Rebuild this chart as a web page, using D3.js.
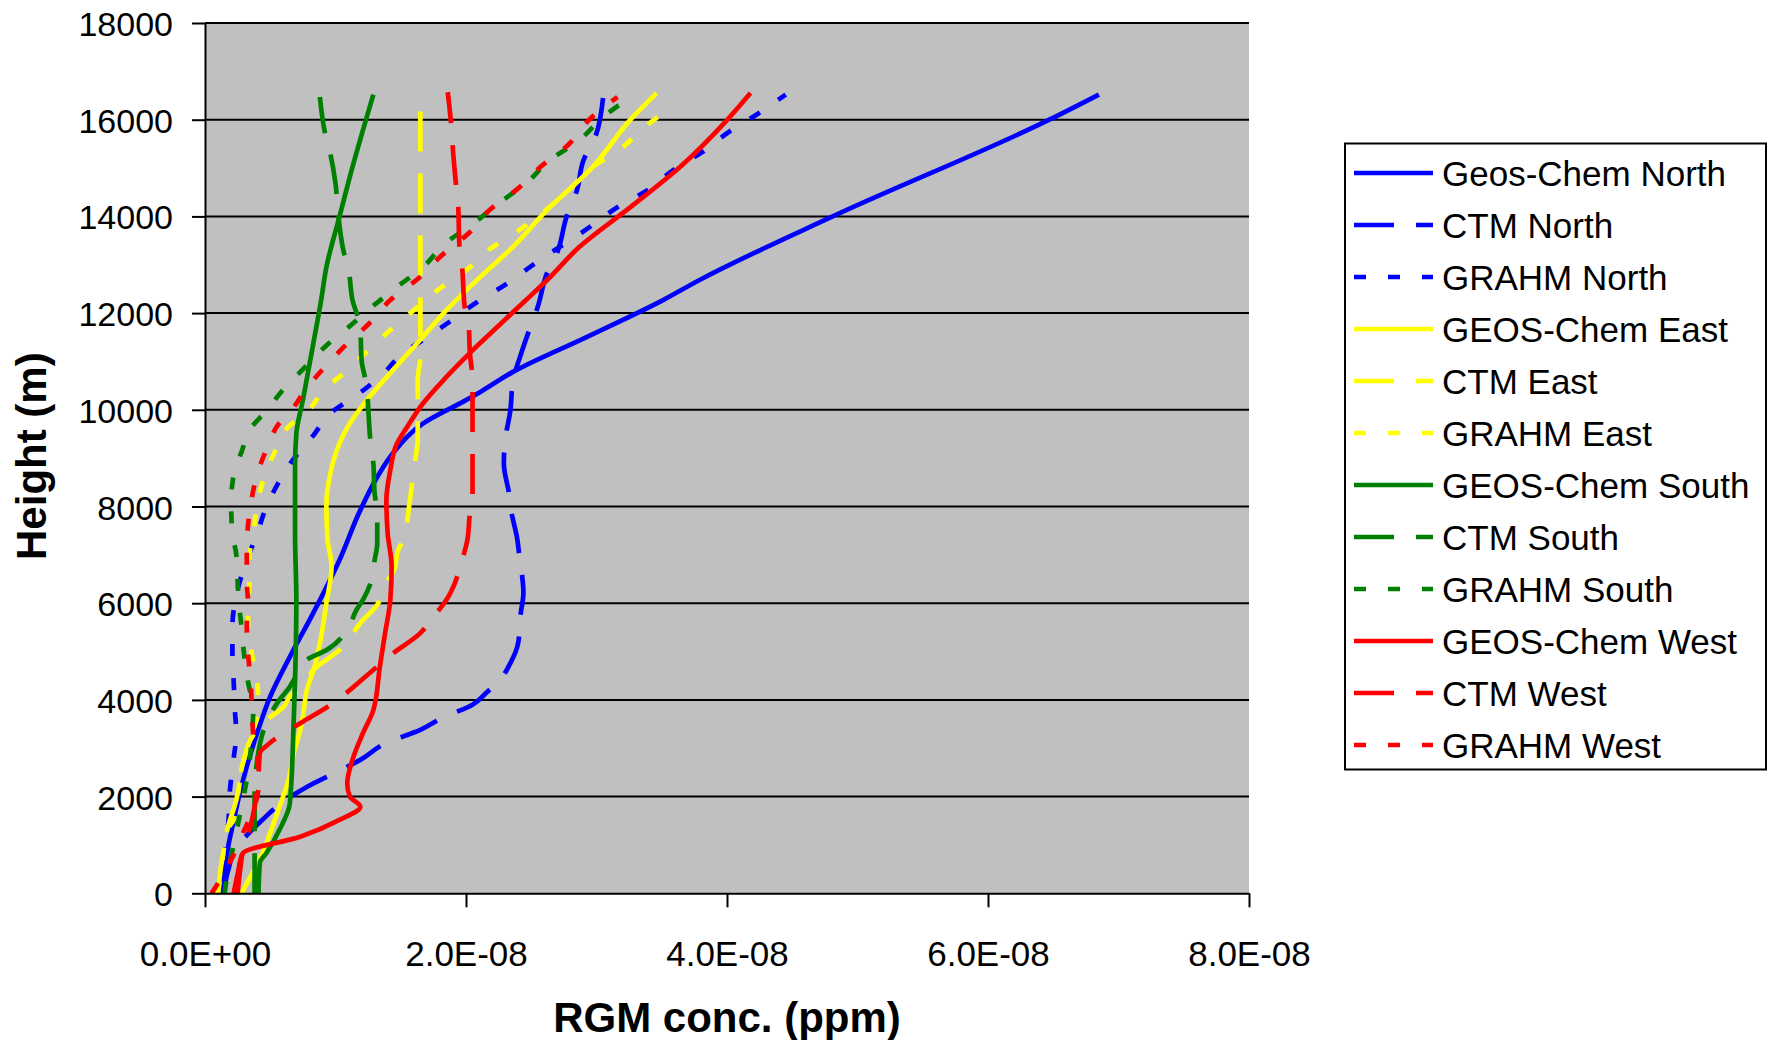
<!DOCTYPE html>
<html><head><meta charset="utf-8">
<script src="https://cdn.jsdelivr.net/npm/d3@7/dist/d3.min.js"></script>
<style>
body{margin:0;background:#fff}
svg{display:block}
text{font-family:"Liberation Sans",Arial,sans-serif;fill:#000}
</style>
</head><body>
<svg id="chart" width="1772" height="1040"></svg>
<script>
// ---- data (concentrations in units of 1e-8 ppm, heights in m) ----
const UNIT = 1e-8;
const xTickValues = [0, 2e-8, 4e-8, 6e-8, 8e-8];
const yTickValues = [0, 2000, 4000, 6000, 8000, 10000, 12000, 14000, 16000, 18000];
const xTitle = "RGM conc. (ppm)";
const yTitle = "Height (m)";

const seriesNames = ["Geos-Chem North","CTM North","GRAHM North",
  "GEOS-Chem East","CTM East","GRAHM East",
  "GEOS-Chem South","CTM South","GRAHM South",
  "GEOS-Chem West","CTM West","GRAHM West"];
const seriesColors = ["#0000FF","#0000FF","#0000FF","#FFFF00","#FFFF00","#FFFF00",
  "#008000","#008000","#008000","#FF0000","#FF0000","#FF0000"];
const seriesDash = ["solid","dash","dot","solid","dash","dot","solid","dash","dot","solid","dash","dot"];

const gcNorthH = [0,500,1000,1500,2000,2620,3320,4070,4890,5800,6890,7925,8610,9100,9715,10200,10370,10785,11500,12270,12685,14000,16000,16520];
const gcNorthC = [0.13,0.15,0.18,0.22,0.26,0.32,0.40,0.50,0.65,0.83,1.03,1.19,1.32,1.44,1.67,2.00,2.11,2.36,2.92,3.51,3.79,4.81,6.47,6.85];

const ctmNorthH = [0,500,1000,1200,1520,1790,2200,2510,2760,3110,3380,3630,3900,4160,4350,4760,5180,5800,6210,6950,7370,7860,8270,8890,9370,9990,10610,11060,11690,12130,12820,13260,13990,14540,15160,15640,16450];
const ctmNorthC = [0.14,0.18,0.25,0.32,0.44,0.55,0.78,1.01,1.19,1.39,1.65,1.82,2.05,2.16,2.24,2.34,2.40,2.42,2.44,2.41,2.39,2.35,2.33,2.29,2.30,2.34,2.36,2.41,2.49,2.55,2.62,2.70,2.77,2.85,2.90,2.99,3.05];

const grNorthH = [0,400,1000,1500,2100,2800,3300,3750,4370,4960,5510,6030,6890,7440,7920,8480,8950,9470,9950,10300,10680,11170,11500,11850,12220,12620,13030,13820,14190,14540,14960,15330,15720,16130,16520];
const grNorthC = [0.13,0.14,0.16,0.18,0.19,0.22,0.24,0.23,0.22,0.21,0.21,0.23,0.32,0.40,0.46,0.56,0.67,0.83,0.97,1.16,1.34,1.52,1.70,1.89,2.08,2.32,2.53,2.97,3.16,3.39,3.59,3.81,4.00,4.24,4.45];

const gcEastH = [0,400,830,1250,1790,2340,2900,3380,3650,4200,4690,5310,6000,6760,7300,7990,8680,9160,9720,10200,10820,11450,12060,12750,13370,14130,15020,16000,16550];
const gcEastC = [0.28,0.36,0.44,0.50,0.57,0.64,0.68,0.73,0.75,0.78,0.84,0.89,0.93,0.97,0.94,0.93,0.96,1.01,1.11,1.24,1.44,1.65,1.85,2.11,2.36,2.62,2.97,3.26,3.46];

const ctmEastH = [0,500,830,1310,1930,2690,3310,3600,3850,4130,4200,4620,5030,5650,5930,6420,6690,7100,7370,7920,8330,8950,9370,10610,11100,12270,16520];
const ctmEastC = [0.10,0.12,0.14,0.17,0.24,0.29,0.38,0.48,0.60,0.67,0.73,0.83,1.03,1.21,1.31,1.39,1.45,1.48,1.53,1.56,1.58,1.61,1.63,1.63,1.65,1.65,1.65];

const grEastH = [0,400,830,1310,1520,2000,2690,3300,3820,4370,4930,5550,6030,6370,6960,7440,8030,8580,9160,9650,9950,10400,10820,11230,11650,12060,12470,12930,13300,13720,14580,15020,15410,15850,16300];
const grEastC = [0.10,0.12,0.14,0.17,0.22,0.25,0.29,0.36,0.41,0.40,0.36,0.33,0.33,0.34,0.34,0.37,0.40,0.45,0.54,0.64,0.78,0.91,1.09,1.25,1.42,1.60,1.78,2.02,2.17,2.41,2.80,2.97,3.19,3.37,3.60];

const gcSouthH = [0,630,830,1310,1860,3590,6070,7440,8820,9510,10200,11370,12270,12950,13990,15020,16060,16520];
const gcSouthC = [0.41,0.42,0.47,0.57,0.65,0.68,0.70,0.69,0.69,0.70,0.75,0.83,0.89,0.93,1.03,1.13,1.24,1.29];

const ctmSouthH = [0,1100,2000,2760,3380,4000,4270,4410,4830,5030,5450,5860,6070,6420,6890,7240,7860,8270,8890,9300,10610,11020,11710,12270,12890,13300,14060,14680,15300,15720,16470];
const ctmSouthC = [0.38,0.38,0.38,0.40,0.45,0.57,0.65,0.68,0.78,0.93,1.09,1.16,1.21,1.27,1.30,1.32,1.32,1.30,1.29,1.27,1.23,1.20,1.19,1.13,1.10,1.06,1.02,1.00,0.96,0.92,0.88];

const grSouthH = [0,500,1000,1800,2500,3300,3800,4370,4930,5510,6000,6420,7000,7440,8070,8650,9130,9650,9950,10450,10890,11330,11710,12130,12540,12950,13440,13860,14270,14710,15160,15580,16030,16470];
const grSouthC = [0.15,0.18,0.22,0.28,0.33,0.36,0.37,0.33,0.30,0.28,0.26,0.25,0.24,0.21,0.20,0.22,0.28,0.36,0.46,0.61,0.77,0.93,1.10,1.28,1.47,1.67,1.84,2.06,2.25,2.47,2.64,2.87,3.04,3.26];

const gcWestH = [0,400,830,1170,1520,1790,2000,2270,2760,3310,3790,4690,5380,6070,6760,7440,8130,8750,9300,9650,10130,10680,11230,11790,12270,12680,13370,14190,15020,15990,16550];
const gcWestC = [0.22,0.25,0.29,0.73,1.03,1.19,1.11,1.09,1.13,1.21,1.29,1.34,1.38,1.42,1.43,1.40,1.39,1.42,1.47,1.55,1.67,1.85,2.05,2.27,2.46,2.62,2.87,3.26,3.64,4.00,4.18];

const ctmWestH = [0,500,1000,1310,1790,2200,2480,2900,3070,3550,3790,4690,4960,5380,5650,6070,6210,6890,7300,7860,8200,8950,9370,10610,11170,11790,12130,12950,13370,14200,14750,15370,15790,16570];
const ctmWestC = [0.25,0.27,0.30,0.34,0.38,0.40,0.41,0.42,0.48,0.75,0.90,1.32,1.44,1.65,1.73,1.85,1.88,1.97,2.01,2.03,2.05,2.05,2.05,2.05,2.03,2.02,1.99,1.97,1.95,1.94,1.92,1.90,1.89,1.86];

const grWestH = [0,300,800,1300,1800,2200,2500,2900,3270,3790,4370,4960,5510,6030,6420,7040,7620,8200,8750,9300,9690,9950,10450,10920,11370,11790,12270,12750,13160,13650,14130,14580,15020,15470,15990,16470];
const grWestC = [0.05,0.12,0.22,0.30,0.38,0.41,0.41,0.40,0.37,0.36,0.35,0.33,0.32,0.33,0.32,0.32,0.33,0.36,0.41,0.49,0.56,0.65,0.78,0.93,1.09,1.26,1.42,1.65,1.80,2.02,2.18,2.40,2.57,2.78,2.94,3.16];

const seriesHeights = [gcNorthH,ctmNorthH,grNorthH,gcEastH,ctmEastH,grEastH,gcSouthH,ctmSouthH,grSouthH,gcWestH,ctmWestH,grWestH];
const seriesConcs = [gcNorthC,ctmNorthC,grNorthC,gcEastC,ctmEastC,grEastC,gcSouthC,ctmSouthC,grSouthC,gcWestC,ctmWestC,grWestC];

// ---- layout ----
const svg = d3.select("#chart");
const plot = {left:205, right:1249, top:23, bottom:893.3};
const x = d3.scaleLinear().domain([0, 8e-8]).range([plot.left, plot.right]);
const y = d3.scaleLinear().domain([0, 18000]).range([plot.bottom, plot.top]);
const dashFor = {solid:null, dash:"40,22", dot:"12,22"};
const LW = 4.7;

function fmtE(d){
  if (d === 0) return "0.0E+00";
  const e = Math.floor(Math.log10(Math.abs(d)) + 1e-9);
  const m = d / Math.pow(10, e);
  return m.toFixed(1) + "E" + (e < 0 ? "-" : "+") + String(Math.abs(e)).padStart(2, "0");
}

// plot background
svg.append("rect").attr("x", plot.left).attr("y", plot.top)
  .attr("width", plot.right - plot.left).attr("height", plot.bottom - plot.top)
  .attr("fill", "#C0C0C0");

// gridlines
svg.append("g").selectAll("line").data(yTickValues.filter(d => d > 0)).join("line")
  .attr("x1", plot.left).attr("x2", plot.right)
  .attr("y1", d => y(d)).attr("y2", d => y(d))
  .attr("stroke", "#000").attr("stroke-width", 2);

// series
const line = d3.line().x(d => x(d[0])).y(d => y(d[1])).curve(d3.curveMonotoneY);
const series = seriesNames.map((name, i) => ({
  name, color: seriesColors[i], dash: seriesDash[i],
  pts: seriesHeights[i].map((h, j) => [seriesConcs[i][j] * UNIT, h])
}));
const gLines = svg.append("g");
series.forEach(s => {
  gLines.append("path").attr("d", line(s.pts))
    .attr("fill", "none").attr("stroke", s.color).attr("stroke-width", LW)
    .attr("stroke-linejoin", "round")
    .attr("stroke-dasharray", dashFor[s.dash]);
});

// axes
const yAxis = d3.axisLeft(y).tickValues(yTickValues).tickFormat(d3.format("d"))
  .tickSize(13).tickPadding(19).tickSizeOuter(0);
const gy = svg.append("g").attr("transform", `translate(${plot.left},0)`).call(yAxis);
gy.selectAll("text").attr("font-size", 34).attr("dy", "0.37em")
  .attr("font-family", '"Liberation Sans",Arial,sans-serif');

const xAxis = d3.axisBottom(x).tickValues(xTickValues).tickFormat(fmtE)
  .tickSize(14).tickPadding(34).tickSizeOuter(0);
const gx = svg.append("g").attr("transform", `translate(0,${plot.bottom})`).call(xAxis);
gx.selectAll("text").attr("font-size", 35)
  .attr("font-family", '"Liberation Sans",Arial,sans-serif');

[gx, gy].forEach(g => {
  g.selectAll("line").attr("stroke", "#000").attr("stroke-width", 2);
  g.select(".domain").attr("stroke", "#000").attr("stroke-width", 2);
});

// axis titles
svg.append("text").attr("x", (plot.left + plot.right) / 2).attr("y", 1032)
  .attr("text-anchor", "middle").attr("font-size", 42).attr("font-weight", "bold")
  .text(xTitle);
svg.append("text").attr("transform", `translate(46,${(plot.top + plot.bottom) / 2 - 2}) rotate(-90)`)
  .attr("text-anchor", "middle").attr("font-size", 42).attr("font-weight", "bold")
  .text(yTitle);

// legend
const lg = {x:1345, y:143.5, w:421, h:626, first:173, step:52};
svg.append("rect").attr("x", lg.x).attr("y", lg.y).attr("width", lg.w).attr("height", lg.h)
  .attr("fill", "#fff").attr("stroke", "#000").attr("stroke-width", 2);
const items = svg.append("g").selectAll("g").data(series).join("g")
  .attr("transform", (d, i) => `translate(0,${lg.first + i * lg.step})`);
items.append("line").attr("x1", 1354).attr("x2", 1433).attr("y1", 0).attr("y2", 0)
  .attr("stroke", d => d.color).attr("stroke-width", LW)
  .attr("stroke-dasharray", d => dashFor[d.dash]);
items.append("text").attr("x", 1442).attr("y", 12.5).attr("font-size", 35)
  .text(d => d.name)
  .each(function(){
    const w = this.getComputedTextLength();
    if (w > 314) { d3.select(this).attr("textLength", 312).attr("lengthAdjust", "spacingAndGlyphs"); }
  });
</script>
</body></html>
